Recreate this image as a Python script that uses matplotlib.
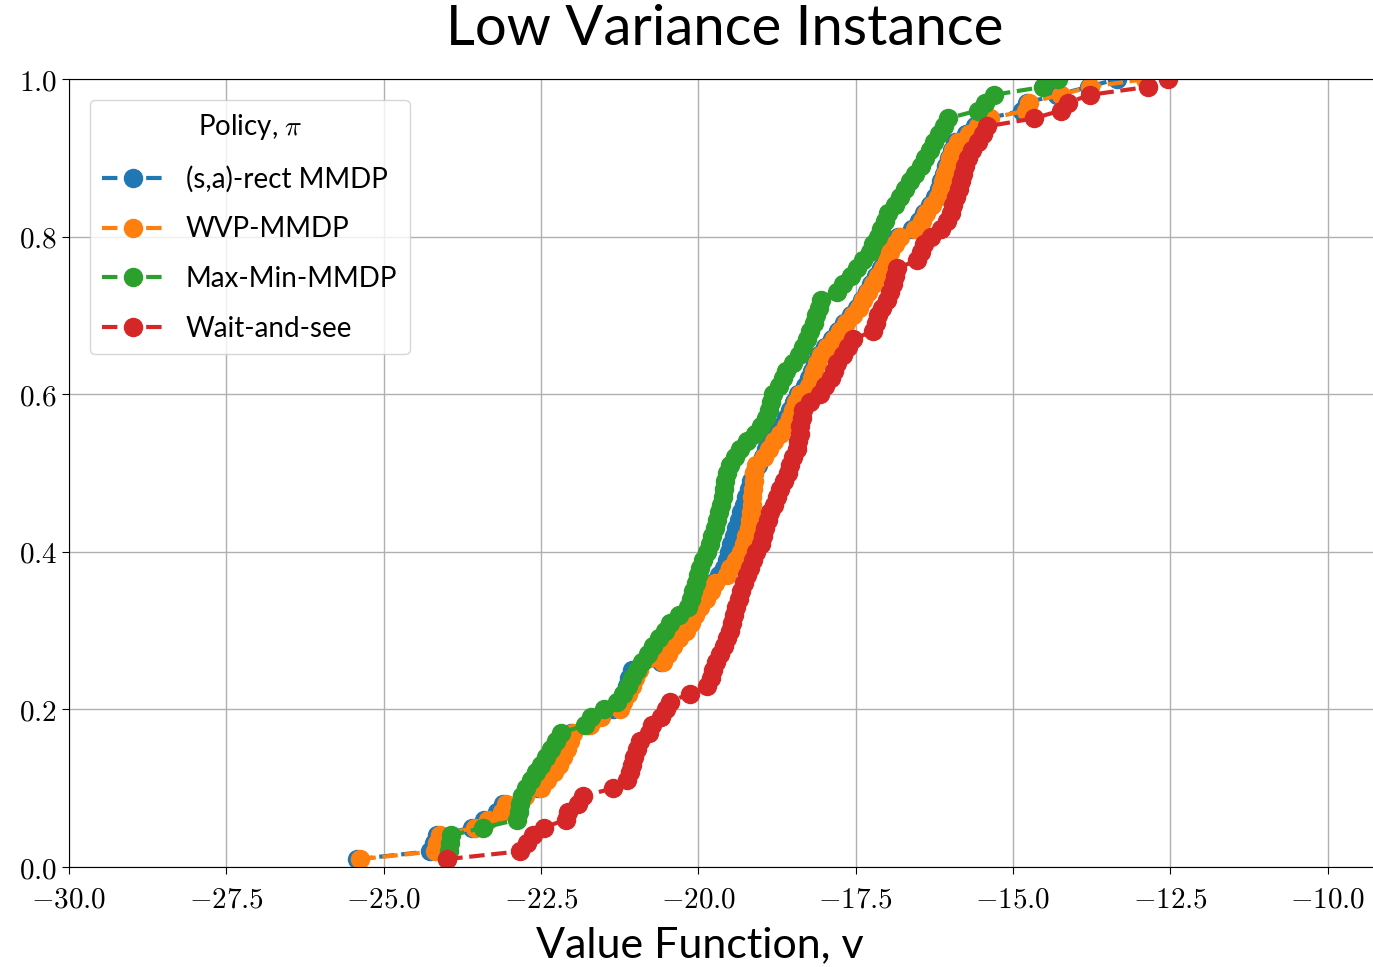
import numpy as np
import matplotlib
matplotlib.use("Agg")
import matplotlib.pyplot as plt
from matplotlib.ticker import FuncFormatter

plt.rcParams['mathtext.fontset'] = 'cm'

# empirical CDF samples (100 runs per policy), sorted
sa_rect = [-25.42, -24.26, -24.20, -24.15, -23.60, -23.40, -23.20, -23.10, -22.80, -22.55,
           -22.45, -22.35, -22.27, -22.20, -22.13, -22.08, -22.02, -21.75, -21.60, -21.35,
           -21.25, -21.18, -21.14, -21.10, -21.05, -20.60, -20.52, -20.43, -20.33, -20.22,
           -20.14, -20.08, -20.00, -19.92, -19.84, -19.78, -19.68, -19.60, -19.55, -19.52,
           -19.48, -19.44, -19.40, -19.36, -19.32, -19.28, -19.24, -19.20, -19.16, -19.12,
           -19.05, -18.98, -18.92, -18.86, -18.78, -18.68, -18.60, -18.54, -18.48, -18.42,
           -18.30, -18.24, -18.20, -18.15, -18.08, -17.98, -17.88, -17.78, -17.68, -17.58,
           -17.48, -17.40, -17.32, -17.25, -17.18, -17.10, -17.03, -16.98, -16.90, -16.82,
           -16.60, -16.50, -16.42, -16.32, -16.24, -16.18, -16.14, -16.10, -16.06, -16.02,
           -15.97, -15.92, -15.75, -15.60, -15.40, -14.85, -14.78, -14.30, -13.80, -13.35]

wvp = [-25.37, -24.18, -24.15, -24.10, -23.55, -23.35, -23.12, -23.05, -22.75, -22.50,
       -22.40, -22.30, -22.22, -22.15, -22.09, -22.04, -21.99, -21.72, -21.55, -21.25,
       -21.19, -21.12, -21.06, -21.00, -20.95, -20.56, -20.48, -20.40, -20.30, -20.20,
       -20.12, -20.06, -19.98, -19.88, -19.80, -19.74, -19.55, -19.49, -19.40, -19.33,
       -19.28, -19.24, -19.20, -19.18, -19.16, -19.15, -19.14, -19.13, -19.12, -19.11,
       -19.08, -18.95, -18.88, -18.80, -18.70, -18.60, -18.54, -18.50, -18.45, -18.38,
       -18.25, -18.20, -18.17, -18.12, -18.05, -17.95, -17.85, -17.75, -17.65, -17.55,
       -17.45, -17.38, -17.30, -17.22, -17.15, -17.06, -17.00, -16.95, -16.87, -16.79,
       -16.55, -16.45, -16.38, -16.28, -16.20, -16.15, -16.12, -16.08, -16.04, -16.00,
       -15.95, -15.88, -15.70, -15.56, -15.36, -14.80, -14.75, -14.24, -13.77, -12.90]

maxmin = [-23.99, -23.97, -23.95, -23.93, -23.42, -22.88, -22.85, -22.83, -22.80, -22.74,
          -22.66, -22.58, -22.50, -22.42, -22.34, -22.26, -22.19, -21.80, -21.70, -21.50,
          -21.30, -21.20, -21.12, -21.05, -20.98, -20.90, -20.80, -20.72, -20.62, -20.53,
          -20.45, -20.30, -20.17, -20.12, -20.08, -20.04, -20.01, -19.97, -19.92, -19.86,
          -19.82, -19.78, -19.74, -19.70, -19.67, -19.64, -19.61, -19.59, -19.57, -19.54,
          -19.49, -19.42, -19.34, -19.22, -19.10, -19.00, -18.92, -18.88, -18.84, -18.81,
          -18.72, -18.65, -18.60, -18.50, -18.40, -18.33, -18.28, -18.22, -18.17, -18.13,
          -18.09, -18.05, -17.80, -17.70, -17.58, -17.48, -17.38, -17.27, -17.22, -17.15,
          -17.10, -17.03, -16.98, -16.88, -16.80, -16.72, -16.64, -16.56, -16.47, -16.40,
          -16.32, -16.25, -16.18, -16.10, -16.04, -15.56, -15.45, -15.30, -14.52, -14.29]

wait_see = [-23.99, -22.83, -22.72, -22.62, -22.46, -22.11, -22.07, -21.92, -21.83, -21.35,
            -21.13, -21.08, -21.05, -21.03, -20.98, -20.92, -20.79, -20.73, -20.60, -20.52,
            -20.45, -20.13, -19.86, -19.80, -19.76, -19.72, -19.65, -19.60, -19.54, -19.50,
            -19.46, -19.44, -19.40, -19.36, -19.33, -19.28, -19.22, -19.18, -19.13, -19.08,
            -19.01, -18.98, -18.94, -18.90, -18.86, -18.80, -18.75, -18.70, -18.64, -18.58,
            -18.54, -18.49, -18.43, -18.41, -18.39, -18.38, -18.35, -18.33, -18.22, -18.06,
            -17.98, -17.90, -17.85, -17.79, -17.70, -17.62, -17.54, -17.22, -17.18, -17.15,
            -17.08, -17.00, -16.95, -16.90, -16.87, -16.84, -16.52, -16.46, -16.42, -16.30,
            -16.15, -16.05, -15.98, -15.95, -15.90, -15.86, -15.83, -15.80, -15.76, -15.72,
            -15.65, -15.56, -15.48, -15.41, -14.67, -14.24, -14.13, -13.77, -12.86, -12.54]

series = [sa_rect, wvp, maxmin, wait_see]
labels = ['(s,a)-rect MMDP', 'WVP-MMDP', 'Max-Min-MMDP', 'Wait-and-see']
colors = ['#1f77b4', '#ff7f0e', '#2ca02c', '#d62728']

fig = plt.figure(figsize=(13.73, 9.67), dpi=100)
ax = fig.add_axes([0.0503, 0.1034, 0.9497, 0.8149])

for vals, lab, col in zip(series, labels, colors):
    x = np.sort(vals)
    y = np.arange(1, len(x) + 1) / len(x)
    ax.plot(x, y, '--o', color=col, label=lab, lw=3, markersize=13)

ax.set_xlim(-30, -9.28)
ax.set_ylim(0, 1.0)
ax.set_xticks(np.arange(-30, -9.9, 2.5))
ax.set_yticks(np.arange(0, 1.01, 0.2))
fmt = FuncFormatter(lambda v, p: f'${v:.1f}$')
ax.xaxis.set_major_formatter(fmt)
ax.yaxis.set_major_formatter(fmt)
ax.tick_params(labelsize=21, length=5)
ax.tick_params(axis='x', pad=8)
ax.grid(True, color='#b0b0b0', lw=1)
ax.spines['right'].set_visible(False)

leg = ax.legend(title=r'Policy, $\pi$', loc='upper left',
                title_fontsize=20, borderaxespad=0.75, labelspacing=0.85,
                handlelength=2.2, borderpad=0.45,
                prop={'family': 'Lato', 'size': 20})
leg.get_title().set_family('Lato')

fig.text(0.528, 0.969, 'Low Variance Instance', ha='center', va='center',
         family='Lato', fontsize=40.5)
fig.text(0.510, 0.023, 'Value Function, v', ha='center', va='center',
         family='Lato', fontsize=31)

fig.savefig('out.png', dpi=100)
